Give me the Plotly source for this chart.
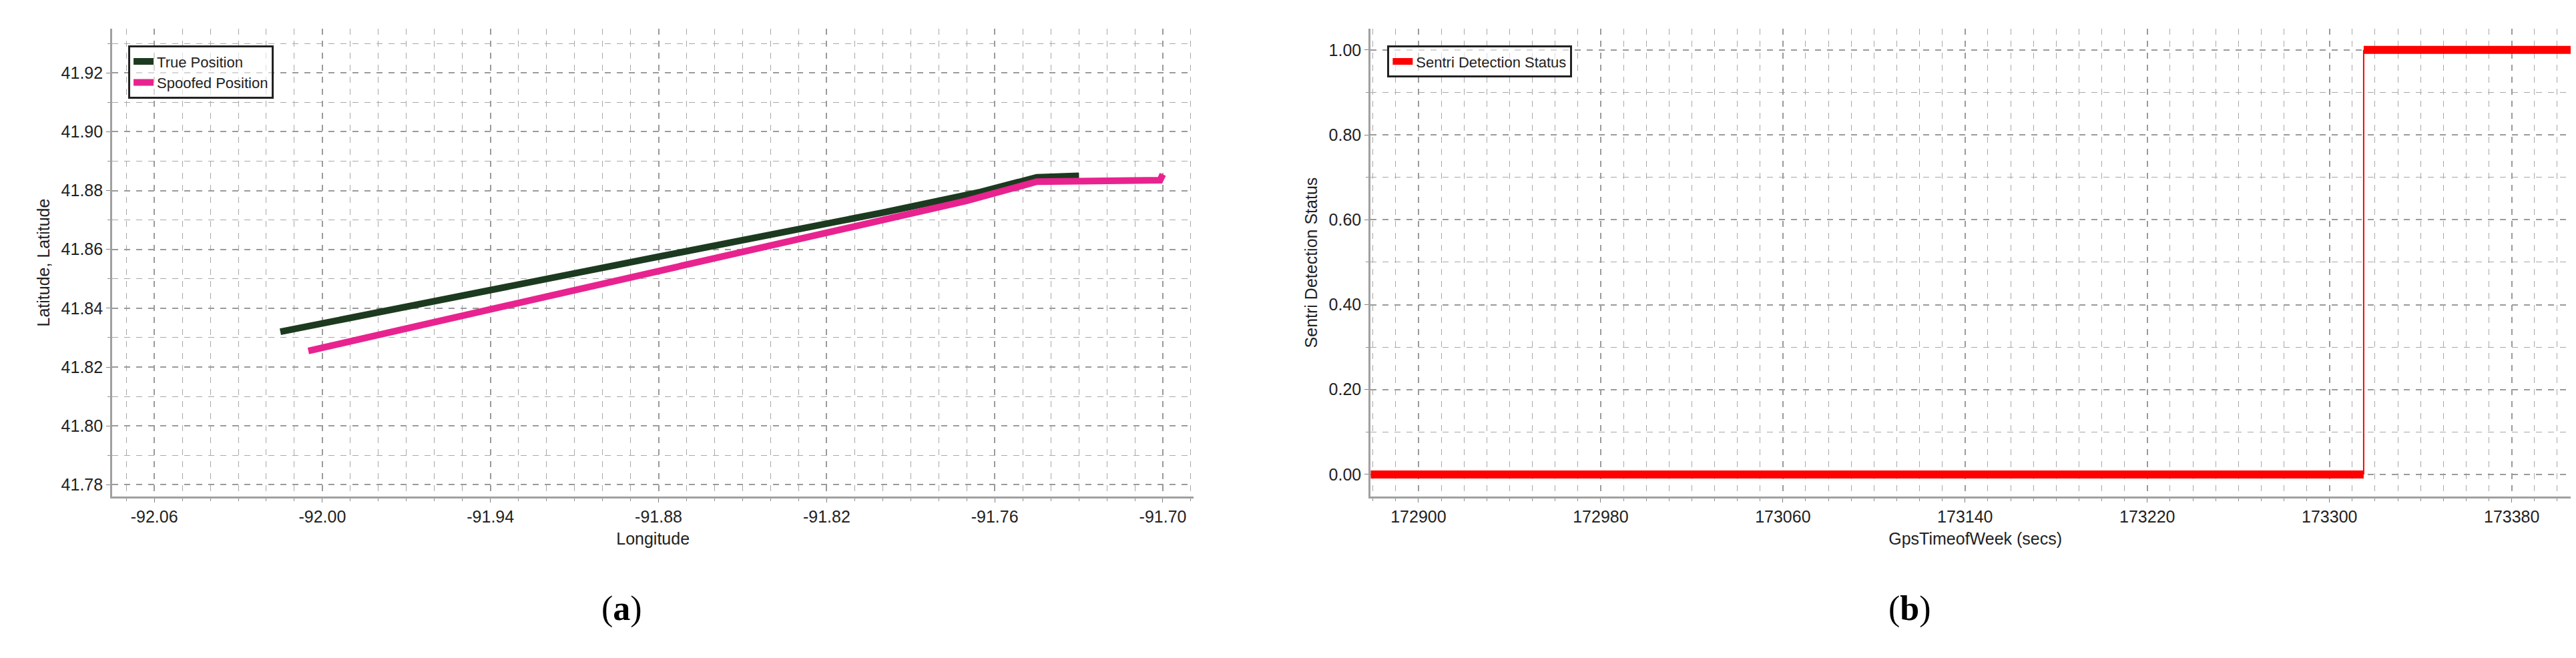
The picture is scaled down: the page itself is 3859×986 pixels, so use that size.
import plotly.graph_objects as go

# Panel (a) data
true_lon = [-92.015, -91.95, -91.88, -91.80, -91.765, -91.745, -91.73]
true_lat = [41.832, 41.8445, 41.8575, 41.8725, 41.8795, 41.8845, 41.8850]
spoof_lon = [-92.005, -91.94, -91.87, -91.80, -91.77, -91.745, -91.72, -91.701, -91.700]
spoof_lat = [41.8255, 41.8395, 41.8545, 41.8695, 41.8765, 41.8830, 41.8835, 41.8835, 41.8855]

# Panel (b) data
t_low = [172879, 173315]
s_low = [0, 0]
t_step = [173315, 173315]
s_step = [0, 1]
t_high = [173315, 173410]
s_high = [1, 1]

FONT = "Liberation Sans"
fig = go.Figure()
fig.add_trace(go.Scatter(x=true_lon, y=true_lat, mode="lines", name="True Position",
                         line=dict(color="#1c3a1f", width=10), xaxis="x", yaxis="y", legend="legend"))
fig.add_trace(go.Scatter(x=spoof_lon, y=spoof_lat, mode="lines", name="Spoofed Position",
                         line=dict(color="#e8238f", width=10), xaxis="x", yaxis="y", legend="legend"))
fig.add_trace(go.Scatter(x=t_low, y=s_low, mode="lines", name="Sentri Detection Status",
                         line=dict(color="#ff0000", width=12), xaxis="x2", yaxis="y2", legend="legend2"))
fig.add_trace(go.Scatter(x=t_step, y=s_step, mode="lines", showlegend=False,
                         line=dict(color="#ff0000", width=2), xaxis="x2", yaxis="y2"))
fig.add_trace(go.Scatter(x=t_high, y=s_high, mode="lines", showlegend=False,
                         line=dict(color="#ff0000", width=12), xaxis="x2", yaxis="y2"))

ax = dict(showline=True, linecolor="#a0a0a0", linewidth=3, ticks="outside", ticklen=6,
          tickcolor="#808080", showgrid=True, gridcolor="#9a9a9a", griddash="dash", gridwidth=1.5,
          zeroline=False, tickfont=dict(family=FONT, size=25, color="#222"),
          title_font=dict(family=FONT, size=25, color="#222"), mirror=False)
minor = dict(ticks="outside", ticklen=4, tickcolor="#909090", showgrid=True,
             gridcolor="#a8a8a8", griddash="dash", gridwidth=1)

fig.update_layout(
    width=3859, height=986, paper_bgcolor="white", plot_bgcolor="white",
    margin=dict(l=0, r=0, t=0, b=0), showlegend=True,
    xaxis=dict(ax, domain=[0.0415, 0.4613], range=[-92.075, -91.689], tickmode="array",
               tickvals=[-92.06, -92.00, -91.94, -91.88, -91.82, -91.76, -91.70],
               ticktext=["-92.06", "-92.00", "-91.94", "-91.88", "-91.82", "-91.76", "-91.70"],
               minor=dict(minor, dtick=0.01, tick0=-92.06), title=dict(text="Longitude", standoff=12), anchor="y"),
    yaxis=dict(ax, domain=[0.2535, 0.9645], range=[41.776, 41.935], dtick=0.02, tick0=41.78,
               tickformat=".2f", minor=dict(minor, dtick=0.01, tick0=41.78),
               title=dict(text="Latitude, Latitude", standoff=10), anchor="x"),
    xaxis2=dict(ax, domain=[0.530, 0.9995], range=[172879, 173410], dtick=80, tick0=172900,
                tickformat="d", minor=dict(minor, dtick=10, tick0=172900),
                title=dict(text="GpsTimeofWeek (secs)", standoff=12), anchor="y2"),
    yaxis2=dict(ax, domain=[0.2535, 0.9645], range=[-0.052, 1.05], dtick=0.2, tick0=0,
                tickformat=".2f", minor=dict(minor, dtick=0.1, tick0=0),
                title=dict(text="Sentri Detection Status", standoff=10), anchor="x2"),
    legend=dict(x=0.0477, y=0.939, xanchor="left", yanchor="top", bgcolor="rgba(255,255,255,0.6)",
                bordercolor="#222", borderwidth=3, font=dict(family=FONT, size=22, color="#222"),
                tracegroupgap=0, itemwidth=30),
    legend2=dict(x=0.5365, y=0.939, xanchor="left", yanchor="top", bgcolor="rgba(255,255,255,0.6)",
                 bordercolor="#222", borderwidth=3, font=dict(family=FONT, size=22, color="#222"),
                 itemwidth=30),
    annotations=[
        dict(text="(<b>a</b>)", x=0.231, y=0.052, xref="paper", yref="paper", showarrow=False,
             font=dict(family="Liberation Serif", size=52, color="black")),
        dict(text="(<b>b</b>)", x=0.748, y=0.052, xref="paper", yref="paper", showarrow=False,
             font=dict(family="Liberation Serif", size=52, color="black")),
    ],
)
fig.write_html("out.html")
